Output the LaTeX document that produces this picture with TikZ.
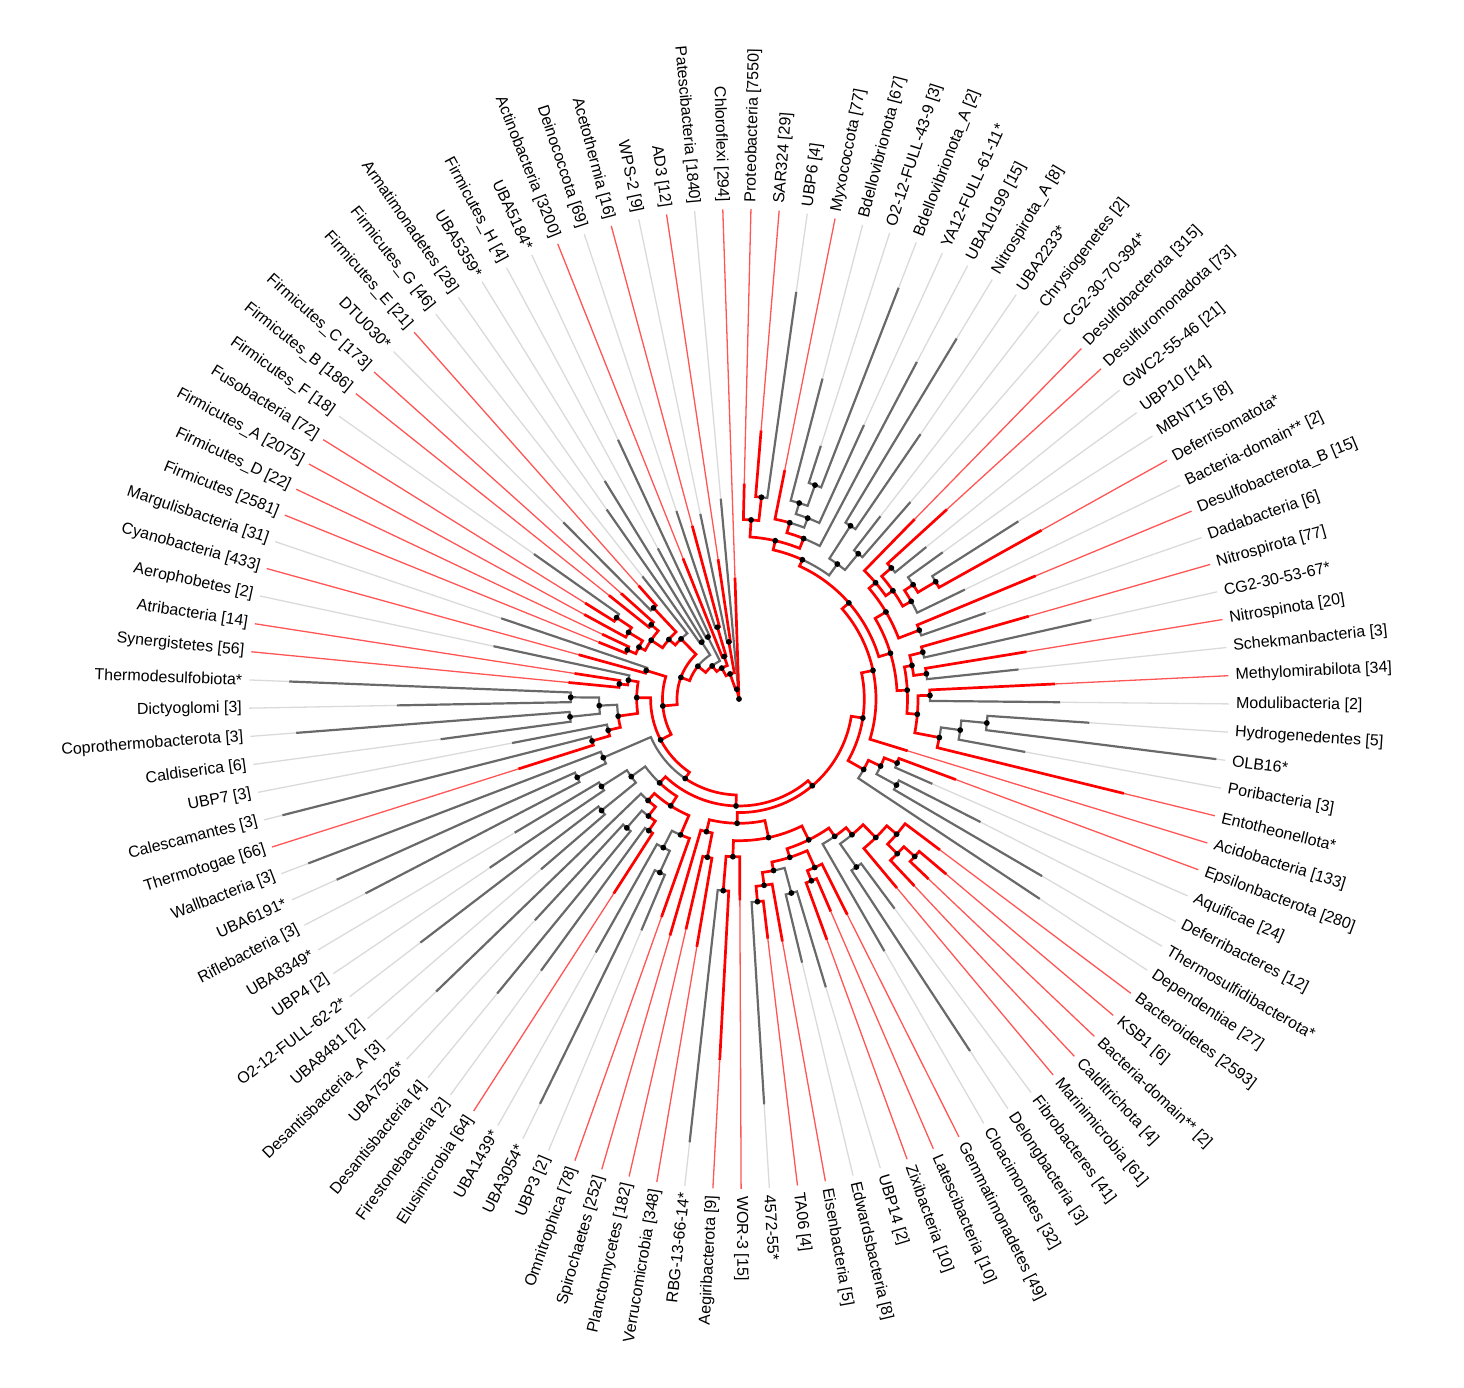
\documentclass[tikz,border=0pt]{standalone}
\usepackage{fontspec}
\newfontfamily\labfont{Liberation Sans}
\pgfdeclarelayer{ext}\pgfdeclarelayer{lg}\pgfdeclarelayer{lr}\pgfdeclarelayer{top}
\pgfsetlayers{ext,lg,lr,top,main}
\definecolor{tred}{RGB}{255,0,0}
\definecolor{tredl}{RGB}{255,85,85}
\definecolor{tgray}{RGB}{105,105,105}
\definecolor{tgrayl}{RGB}{218,218,218}
\tikzset{
 rb/.style={draw=tred, line width=2.7pt, line cap=rect, line join=miter},
 gb/.style={draw=tgray, line width=2.2pt, line cap=rect, line join=miter},
 rt/.style={draw=tredl, line width=1.3pt},
 gt/.style={draw=tgrayl, line width=1.3pt},
 lab/.style={font=\labfont\fontsize{16}{19}\selectfont, inner sep=0pt, text=black},
 dotn/.style={circle, fill=black, inner sep=0pt, minimum size=5.8pt}
}
% internal edge: parent idx, parent r, child idx, child r, colour (r/g)
\newcommand\E[5]{%
 \pgfmathsetmacro\myA{88.6-(#1-1)*3.3028}%
 \pgfmathsetmacro\myB{88.6-(#3-1)*3.3028}%
 \begin{pgfonlayer}{l#5}\draw[#5b] (\myA:#2pt) arc[start angle=\myA, end angle=\myB, radius=#2pt] -- (\myB:#4pt);\end{pgfonlayer}}
% leaf edge: parent idx, parent r, leaf idx, tip r, colour, label
\newcommand\Lf[6]{%
 \pgfmathsetmacro\myA{88.6-(#1-1)*3.3028}%
 \pgfmathsetmacro\myB{88.6-(#3-1)*3.3028}%
 \begin{pgfonlayer}{l#5}\draw[#5b] (\myA:#2pt) arc[start angle=\myA, end angle=\myB, radius=#2pt] -- (\myB:#4pt);\end{pgfonlayer}%
 \begin{pgfonlayer}{ext}\draw[#5t] (\myB:#4pt) -- (\myB:490pt);\end{pgfonlayer}%
 \ifdim\myB pt<-90pt
  \pgfmathsetmacro\myC{\myB+180}%
  \node[lab,anchor=east,rotate=\myC] (L#3) at (\myB:497pt) {#6};%
 \else
  \node[lab,anchor=west,rotate=\myB] (L#3) at (\myB:497pt) {#6};%
 \fi}
\begin{document}
\begin{tikzpicture}
\useasboundingbox (-739pt,-689pt) rectangle (725pt,699pt);
% root
\E{105.81}{0.01}{105.81}{10}{r}
\Lf{109}{0.01}{109}{120}{r}{Chloroflexi [294]}
% b
\E{105.81}{10}{103.63}{26.6}{r}
\Lf{105.81}{10}{108}{200}{g}{Patescibacteria [1840]}
% c
\E{103.63}{26.6}{100.75}{35.4}{r}
\E{103.63}{26.6}{106.5}{58}{r}
\Lf{106.5}{58}{106}{188}{g}{WPS-2 [9]}
\Lf{106.5}{58}{107}{140}{r}{AD3 [12]}
% d
\E{100.75}{35.4}{97.75}{42.6}{r}
\E{100.75}{35.4}{103.75}{45}{r}
\Lf{103.75}{45}{103}{150}{r}{Actinobacteria [3200]}
\E{103.75}{45}{104.5}{75}{r}
\Lf{104.5}{75}{104}{197}{g}{Deinococcota [69]}
\Lf{104.5}{75}{105}{178}{r}{Acetothermia [16]}
% e
\E{97.75}{42.6}{94}{52.6}{r}
\E{97.75}{42.6}{101.5}{69.3}{g}
\Lf{101.5}{69.3}{101}{170}{g}{Firmicutes\_H [4]}
\Lf{101.5}{69.3}{102}{285}{g}{UBA5184*}
% f
\E{94}{52.6}{88.5}{62}{r}
\E{94}{52.6}{99.5}{68}{g}
\Lf{99.5}{68}{99}{230}{g}{Armatimonadetes [28]}
\Lf{99.5}{68}{100}{255}{g}{UBA5359*}
% g
\E{88.5}{62}{80.74}{76.5}{r}
\E{88.5}{62}{96.27}{83.5}{r}
\E{96.27}{83.5}{94.53}{92}{r}
\Lf{96.27}{83.5}{98}{155}{g}{Firmicutes\_G [46]}
\E{94.53}{92}{92.56}{105.7}{r}
\E{94.53}{92}{96.5}{125}{r}
\Lf{96.5}{125}{96}{248}{g}{DTU030*}
\Lf{96.5}{125}{97}{150}{r}{Firmicutes\_E [21]}
\E{92.56}{105.7}{90.625}{112.7}{r}
\E{92.56}{105.7}{94.5}{115}{r}
\Lf{94.5}{115}{94}{165}{r}{Firmicutes\_B [186]}
\Lf{94.5}{115}{95}{157}{r}{Firmicutes\_C [173]}
\E{90.625}{112.7}{89.5}{122}{r}
\E{90.625}{112.7}{91.75}{129}{r}
\Lf{89.5}{122}{89}{150}{r}{Firmicutes [2581]}
\Lf{89.5}{122}{90}{150}{r}{Firmicutes\_D [22]}
\Lf{91.75}{129}{91}{175}{r}{Firmicutes\_A [2075]}
\E{91.75}{129}{92.5}{147}{r}
\Lf{92.5}{147}{92}{180}{r}{Fusobacteria [72]}
\Lf{92.5}{147}{93}{250}{g}{Firmicutes\_F [18]}
% h
\E{80.74}{76.5}{73.98}{88.4}{r}
\E{80.74}{76.5}{87.5}{97}{r}
\Lf{87.5}{97}{87}{165}{r}{Cyanobacteria [433]}
\Lf{87.5}{97}{88}{250}{g}{Margulisbacteria [31]}
% N8
\E{73.98}{88.4}{65.4}{96}{r}
\E{73.98}{88.4}{82.56}{102.3}{r}
\E{82.56}{102.3}{79.875}{122}{r}
\E{82.56}{102.3}{85.25}{112.2}{r}
\E{85.25}{112.2}{84.5}{120.6}{r}
\Lf{85.25}{112.2}{86}{250}{g}{Aerophobetes [2]}
\Lf{84.5}{120.6}{84}{170}{r}{Synergistetes [56]}
\Lf{84.5}{120.6}{85}{165}{r}{Atribacteria [14]}
\E{79.875}{122}{78.25}{134.5}{r}
\E{79.875}{122}{81.5}{139.9}{g}
\E{78.25}{134.5}{77.5}{152.8}{r}
\Lf{78.25}{134.5}{79}{230}{g}{UBP7 [3]}
\Lf{77.5}{152.8}{77}{230}{r}{Thermotogae [66]}
\Lf{77.5}{152.8}{78}{470}{g}{Calescamantes [3]}
\E{81.5}{139.9}{80.5}{169.9}{g}
\E{81.5}{139.9}{82.5}{168.3}{g}
\Lf{80.5}{169.9}{80}{300}{g}{Caldiserica [6]}
\Lf{80.5}{169.9}{81}{443}{g}{Coprothermobacterota [3]}
\Lf{82.5}{168.3}{82}{341}{g}{Dictyoglomi [3]}
\Lf{82.5}{168.3}{83}{449}{g}{Thermodesulfobiota*}
% N9
\E{65.4}{96}{55.56}{107}{r}
\E{65.4}{96}{75.25}{147.9}{g}
\E{75.25}{147.9}{74.5}{179.8}{g}
\Lf{75.25}{147.9}{76}{460}{g}{Wallbacteria [3]}
\Lf{74.5}{179.8}{74}{420}{g}{Riflebacteria [3]}
\Lf{74.5}{179.8}{75}{440}{g}{UBA6191*}
% N10
\E{55.56}{107}{42.9}{113.6}{r}
\E{55.56}{107}{68.22}{115.5}{r}
\E{68.22}{115.5}{64.94}{126.8}{r}
\E{68.22}{115.5}{71.5}{132.8}{g}
\E{71.5}{132.8}{70.5}{177}{g}
\E{71.5}{132.8}{72.5}{163}{g}
\Lf{70.5}{177}{70}{260}{g}{UBA8481 [2]}
\Lf{70.5}{177}{71}{400}{g}{O2-12-FULL-62-2*}
\Lf{72.5}{163}{72}{300}{g}{UBP4 [2]}
\Lf{72.5}{163}{73}{260}{g}{UBA8349*}
\E{64.94}{126.8}{62.125}{147.9}{r}
\E{64.94}{126.8}{67.75}{136.3}{r}
\Lf{62.125}{147.9}{61}{230}{r}{Omnitrophica [78]}
\E{62.125}{147.9}{63.25}{166.8}{g}
\E{63.25}{166.8}{62.5}{190.8}{g}
\Lf{63.25}{166.8}{64}{290}{g}{UBA1439*}
\Lf{62.5}{190.8}{62}{250}{g}{UBP3 [2]}
\Lf{62.5}{190.8}{63}{450}{g}{UBA3054*}
\E{67.75}{136.3}{66.5}{148}{r}
\Lf{67.75}{136.3}{69}{420}{g}{Desantisbacteria\_A [3]}
\E{66.5}{148}{65.5}{159.6}{r}
\E{66.5}{148}{67.5}{170.9}{g}
\Lf{65.5}{159.6}{65}{230}{r}{Elusimicrobia [64]}
\Lf{65.5}{159.6}{66}{335}{g}{Firestonebacteria [2]}
\Lf{67.5}{170.9}{67}{380}{g}{Desantisbacteria [4]}
\Lf{67.5}{170.9}{68}{300}{g}{UBA7526*}
% N11
\E{42.9}{113.6}{30.47}{125.3}{r}
\E{42.9}{113.6}{55.34}{124.3}{r}
\E{55.34}{124.3}{51.43}{141.7}{r}
\E{55.34}{124.3}{59.25}{136.6}{r}
\E{59.25}{136.6}{58.5}{161.4}{r}
\Lf{59.25}{136.6}{60}{245}{r}{Spirochaetes [252]}
\Lf{58.5}{161.4}{58}{250}{r}{Verrucomicrobia [348]}
\Lf{58.5}{161.4}{59}{235}{r}{Planctomycetes [182]}
\E{51.43}{141.7}{47.1}{157.2}{r}
\E{51.43}{141.7}{55.75}{157.8}{r}
\Lf{55.75}{157.8}{55}{200}{r}{WOR-3 [15]}
\E{55.75}{157.8}{56.5}{192.3}{r}
\Lf{56.5}{192.3}{56}{360}{r}{Aegiribacterota [9]}
\Lf{56.5}{192.3}{57}{445}{g}{RBG-13-66-14*}
\E{47.1}{157.2}{44.52}{167.4}{r}
\E{47.1}{157.2}{49.69}{166.3}{r}
\E{49.69}{166.3}{47.75}{184.7}{r}
\E{49.69}{166.3}{51.625}{175}{r}
\Lf{47.75}{184.7}{47}{240}{r}{Gemmatimonadetes [49]}
\E{47.75}{184.7}{48.5}{195.7}{r}
\Lf{48.5}{195.7}{48}{230}{r}{Latescibacteria [10]}
\Lf{48.5}{195.7}{49}{255}{r}{Zixibacteria [10]}
\E{51.625}{175}{50.5}{201}{g}
\E{51.625}{175}{52.75}{188}{r}
\Lf{50.5}{201}{50}{300}{g}{UBP14 [2]}
\Lf{50.5}{201}{51}{270}{g}{Edwardsbacteria [8]}
\Lf{52.75}{188}{52}{245}{r}{Eisenbacteria [5]}
\E{52.75}{188}{53.5}{203.5}{r}
\Lf{53.5}{203.5}{53}{240}{r}{TA06 [4]}
\Lf{53.5}{203.5}{54}{405}{g}{4572-55*}
\E{44.52}{167.4}{43.03}{176.6}{r}
\Lf{44.52}{167.4}{46}{290}{g}{Cloacimonetes [32]}
\E{43.03}{176.6}{41.56}{194.7}{r}
\E{43.03}{176.6}{44.5}{205}{g}
\Lf{44.5}{205}{44}{260}{g}{Fibrobacteres [41]}
\Lf{44.5}{205}{45}{420}{g}{Delongbacteria [3]}
\E{41.56}{194.7}{40.125}{207.7}{r}
\Lf{41.56}{194.7}{43}{245}{r}{Marinimicrobia [61]}
\Lf{40.125}{207.7}{39}{250}{r}{Bacteroidetes [2593]}
\E{40.125}{207.7}{41.25}{221.3}{r}
\E{41.25}{221.3}{40.5}{236}{r}
\Lf{41.25}{221.3}{42}{255}{r}{Calditrichota [4]}
\Lf{40.5}{236}{40}{270}{r}{KSB1 [6]}
\Lf{40.5}{236}{41}{260}{r}{Bacteria-domain** [2]}
% N12
\E{30.47}{125.3}{24.18}{137}{r}
\E{30.47}{125.3}{36.75}{143.2}{r}
\E{36.75}{143.2}{35.5}{156.7}{r}
\Lf{36.75}{143.2}{38}{360}{g}{Dependentiae [27]}
\E{35.5}{156.7}{34.5}{170.6}{r}
\E{35.5}{156.7}{36.5}{179.5}{g}
\Lf{34.5}{170.6}{34}{230}{r}{Epsilonbacterota [280]}
\Lf{34.5}{170.6}{35}{210}{g}{Aquificae [24]}
\Lf{36.5}{179.5}{36}{270}{g}{Deferribacteres [12]}
\Lf{36.5}{179.5}{37}{350}{g}{Thermosulfidibacterota*}
% N13
\E{24.18}{137}{15.36}{146}{r}
\Lf{24.18}{137}{33}{175}{r}{Acidobacteria [133]}
% N14
\E{15.36}{146}{7.99}{153}{r}
\E{15.36}{146}{22.73}{158.2}{r}
\E{22.73}{158.2}{18.55}{170.8}{r}
\E{22.73}{158.2}{26.91}{168.5}{r}
\E{18.55}{170.8}{15.59}{179.4}{r}
\E{18.55}{170.8}{21.5}{193}{r}
\Lf{21.5}{193}{21}{320}{r}{Desulfobacterota\_B [15]}
\Lf{21.5}{193}{22}{260}{g}{Dadabacteria [6]}
\Lf{15.59}{179.4}{14}{250}{r}{Desulfobacterota [315]}
\E{15.59}{179.4}{17.19}{188.2}{r}
\E{17.19}{188.2}{15.5}{201}{r}
\E{17.19}{188.2}{18.875}{198}{r}
\Lf{15.5}{201}{15}{280}{r}{Desulfuromonadota [73]}
\Lf{15.5}{201}{16}{240}{g}{GWC2-55-46 [21]}
\E{18.875}{198}{17.75}{208.3}{r}
\Lf{18.875}{198}{20}{250}{g}{Bacteria-domain** [2]}
\Lf{17.75}{208.3}{17}{250}{g}{UBP10 [14]}
\E{17.75}{208.3}{18.5}{229}{r}
\Lf{18.5}{229}{18}{330}{g}{MBNT15 [8]}
\Lf{18.5}{229}{19}{345}{r}{Deferrisomatota*}
\E{26.91}{168.5}{24.5}{176.2}{r}
\E{26.91}{168.5}{29.31}{179}{r}
\E{24.5}{176.2}{23.5}{189.7}{r}
\E{24.5}{176.2}{25.5}{189.1}{r}
\Lf{23.5}{189.7}{23}{300}{r}{Nitrospirota [77]}
\Lf{23.5}{189.7}{24}{360}{g}{CG2-30-53-67*}
\Lf{25.5}{189.1}{25}{290}{r}{Nitrospinota [20]}
\Lf{25.5}{189.1}{26}{280}{g}{Schekmanbacteria [3]}
\E{29.31}{179}{27.5}{191}{r}
\E{29.31}{179}{31.125}{204}{r}
\Lf{27.5}{191}{27}{315}{r}{Methylomirabilota [34]}
\Lf{27.5}{191}{28}{320}{g}{Modulibacteria [2]}
\E{31.125}{204}{30.25}{223.4}{g}
\Lf{31.125}{204}{32}{395}{r}{Entotheonellota*}
\E{30.25}{223.4}{29.5}{249}{g}
\Lf{30.25}{223.4}{31}{290}{g}{Poribacteria [3]}
\Lf{29.5}{249}{29}{350}{g}{Hydrogenedentes [5]}
\Lf{29.5}{249}{30}{480}{g}{OLB16*}
% N15
\E{7.99}{153}{4.485}{162.4}{r}
\E{7.99}{153}{11.5}{167}{g}
\E{11.5}{167}{10.5}{206}{g}
\E{11.5}{167}{12.5}{188}{g}
\Lf{10.5}{206}{10}{420}{g}{Nitrospirota\_A [8]}
\Lf{10.5}{206}{11}{320}{g}{UBA2233*}
\Lf{12.5}{188}{12}{230}{g}{Chrysiogenetes [2]}
\Lf{12.5}{188}{13}{260}{g}{CG2-30-70-394*}
% N16
\E{4.485}{162.4}{1.75}{179.5}{r}
\E{4.485}{162.4}{7.22}{173}{r}
\E{7.22}{173}{5.44}{183.4}{r}
\Lf{7.22}{173}{9}{380}{g}{UBA10199 [15]}
\Lf{5.44}{183.4}{4}{232}{r}{Myxococcota [77]}
\E{5.44}{183.4}{6.875}{193.5}{g}
\E{6.875}{193.5}{5.75}{205}{g}
\Lf{6.875}{193.5}{8}{300}{g}{YA12-FULL-61-11*}
\Lf{5.75}{205}{5}{330}{g}{Bdellovibrionota [67]}
\E{5.75}{205}{6.5}{227}{g}
\Lf{6.5}{227}{6}{265}{g}{O2-12-FULL-43-9 [3]}
\Lf{6.5}{227}{7}{440}{g}{Bdellovibrionota\_A [2]}
% N17
\Lf{1.75}{179.5}{1}{214}{r}{Proteobacteria [7550]}
\E{1.75}{179.5}{2.5}{203}{r}
\Lf{2.5}{203}{2}{268}{r}{SAR324 [29]}
\Lf{2.5}{203}{3}{410}{g}{UBP6 [4]}
% dots
\begin{pgfonlayer}{top}
\foreach \qa/\qr in {1/0,105.81/10,103.63/26.6,106.5/58,100.75/35.4,103.75/45,104.5/75,97.75/42.6,101.5/69.3,94/52.6,99.5/68,88.5/62,96.27/83.5,94.53/92,96.5/125,92.56/105.7,94.5/115,90.625/112.7,89.5/122,91.75/129,92.5/147,80.74/76.5,87.5/97,73.98/88.4,82.56/102.3,85.25/112.2,84.5/120.6,79.875/122,78.25/134.5,77.5/152.8,81.5/139.9,80.5/169.9,82.5/168.3,65.4/96,75.25/147.9,74.5/179.8,55.56/107,68.22/115.5,71.5/132.8,70.5/177,72.5/163,64.94/126.8,62.125/147.9,63.25/166.8,62.5/190.8,67.75/136.3,66.5/148,65.5/159.6,67.5/170.9,42.9/113.6,55.34/124.3,59.25/136.6,58.5/161.4,51.43/141.7,55.75/157.8,56.5/192.3,47.1/157.2,49.69/166.3,47.75/184.7,48.5/195.7,51.625/175,50.5/201,52.75/188,53.5/203.5,44.52/167.4,43.03/176.6,44.5/205,41.56/194.7,40.125/207.7,41.25/221.3,40.5/236,30.47/125.3,36.75/143.2,35.5/156.7,34.5/170.6,36.5/179.5,24.18/137,15.36/146,22.73/158.2,18.55/170.8,21.5/193,15.59/179.4,17.19/188.2,15.5/201,18.875/198,17.75/208.3,18.5/229,26.91/168.5,24.5/176.2,23.5/189.7,25.5/189.1,29.31/179,27.5/191,31.125/204,30.25/223.4,29.5/249,7.99/153,11.5/167,10.5/206,12.5/188,4.485/162.4,7.22/173,5.44/183.4,6.875/193.5,5.75/205,6.5/227,1.75/179.5,2.5/203}
  \node[dotn] at ({88.6-(\qa-1)*3.3028}:\qr pt) {};
\end{pgfonlayer}
\end{tikzpicture}
\end{document}
